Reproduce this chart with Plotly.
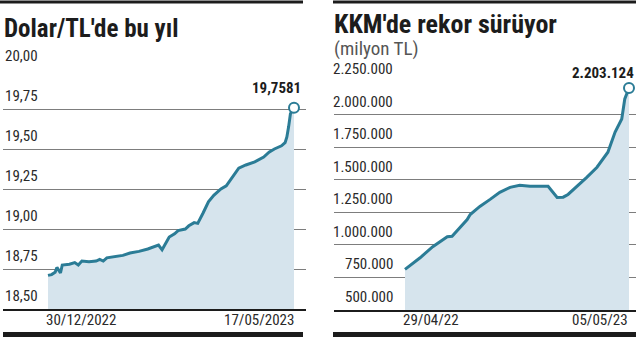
import plotly.graph_objects as go
import pandas as pd

# ---------------- data ----------------
usd_dates = ["2022-12-30", "2023-01-01", "2023-01-03", "2023-01-04", "2023-01-06", "2023-01-07",
             "2023-01-11", "2023-01-14", "2023-01-16", "2023-01-18", "2023-01-22", "2023-01-26",
             "2023-01-28", "2023-01-30", "2023-02-01", "2023-02-06", "2023-02-10", "2023-02-14",
             "2023-02-19", "2023-02-24", "2023-02-28", "2023-03-02", "2023-03-04", "2023-03-08",
             "2023-03-11", "2023-03-13", "2023-03-17", "2023-03-19", "2023-03-22", "2023-03-24",
             "2023-03-27", "2023-03-30", "2023-04-02", "2023-04-06", "2023-04-09", "2023-04-12",
             "2023-04-16", "2023-04-20", "2023-04-25", "2023-04-30", "2023-05-03", "2023-05-06",
             "2023-05-10", "2023-05-12", "2023-05-13", "2023-05-14", "2023-05-15", "2023-05-17"]
usd_values = [18.71, 18.715, 18.73, 18.76, 18.725, 18.775,
              18.78, 18.79, 18.775, 18.80, 18.795, 18.80,
              18.81, 18.80, 18.82, 18.83, 18.835, 18.85,
              18.86, 18.875, 18.89, 18.90, 18.87, 18.95,
              18.97, 18.99, 19.00, 19.02, 19.04, 19.035,
              19.10, 19.17, 19.21, 19.25, 19.27, 19.32,
              19.38, 19.40, 19.42, 19.45, 19.48, 19.50,
              19.52, 19.54, 19.575, 19.64, 19.72, 19.7581]

kkm_dates = ["2022-04-29", "2022-05-24", "2022-06-14", "2022-07-08", "2022-07-16", "2022-07-29",
             "2022-08-10", "2022-08-15", "2022-08-31", "2022-09-17", "2022-10-03", "2022-10-20",
             "2022-11-05", "2022-11-22", "2022-12-09", "2022-12-22", "2023-01-06", "2023-01-16",
             "2023-01-24", "2023-02-08", "2023-02-24", "2023-03-13", "2023-03-31", "2023-04-12",
             "2023-04-23", "2023-04-28", "2023-05-05"]
kkm_values = [812000, 901000, 986000, 1063000, 1066000, 1133000,
              1194000, 1233000, 1295000, 1349000, 1403000, 1441000,
              1457000, 1449000, 1452000, 1449000, 1364000, 1366000,
              1387000, 1449000, 1518000, 1596000, 1711000, 1866000,
              1966000, 2120000, 2203124]

usd_ticks = [18.50, 18.75, 19.00, 19.25, 19.50, 19.75, 20.00]
kkm_ticks = [500000, 750000, 1000000, 1250000, 1500000, 1750000, 2000000, 2250000]
usd_xlabels = ["30/12/2022", "17/05/2023"]
kkm_xlabels = ["29/04/22", "05/05/23"]

title_left = "Dolar/TL'de bu yıl"
title_right = "KKM'de rekor sürüyor"
subtitle_right = "(milyon TL)"

# ---------------- styles ----------------
W, H = 640, 342
FONT = "Liberation Sans Narrow, Roboto Condensed, Arial Narrow, sans-serif"
LINE = "#2b7c96"
FILL = "rgba(214,228,237,1)"
GRID = "#7d7d7d"
DARK = "#1c1c1c"
TXT = "#2a2a2a"


def px(x):
    return x / W


def py(y):
    return 1 - y / H


def fmt_tr_dec(v):
    return f"{v:.2f}".replace(".", ",")


def fmt_tr_int(v):
    return f"{int(round(v)):,}".replace(",", ".")


def fmt_tr_4(v):
    return f"{v:.4f}".replace(".", ",")


def date_range(dates, data_px0, data_px1, dom_px0, dom_px1):
    d0 = pd.Timestamp(dates[0])
    d1 = pd.Timestamp(dates[-1])
    days = (d1 - d0).days
    ppd = (data_px1 - data_px0) / days
    r0 = d0 - pd.Timedelta(days=(data_px0 - dom_px0) / ppd)
    r1 = d1 + pd.Timedelta(days=(dom_px1 - data_px1) / ppd)
    return [r0.isoformat(), r1.isoformat()]


fig = go.Figure()

# left panel
fig.add_trace(go.Scatter(x=usd_dates, y=usd_values, mode="lines", fill="tozeroy",
                         fillcolor=FILL, line=dict(color=LINE, width=3),
                         xaxis="x", yaxis="y", hoverinfo="skip", showlegend=False))
fig.add_trace(go.Scatter(x=[usd_dates[-1]], y=[usd_values[-1]], mode="markers",
                         marker=dict(symbol="circle", size=10, color="white",
                                     line=dict(color=LINE, width=2)),
                         xaxis="x", yaxis="y", hoverinfo="skip", showlegend=False))
# right panel
fig.add_trace(go.Scatter(x=kkm_dates, y=kkm_values, mode="lines", fill="tozeroy",
                         fillcolor=FILL, line=dict(color=LINE, width=3),
                         xaxis="x2", yaxis="y2", hoverinfo="skip", showlegend=False))
fig.add_trace(go.Scatter(x=[kkm_dates[-1]], y=[kkm_values[-1]], mode="markers",
                         marker=dict(symbol="circle", size=10, color="white",
                                     line=dict(color=LINE, width=2)),
                         xaxis="x2", yaxis="y2", hoverinfo="skip", showlegend=False))

L_DOM = (3, 306)
R_DOM = (334, 636)
L_DATA = (48, 294)
R_DATA = (405, 629)

axis_common = dict(showticklabels=False, ticks="", zeroline=False, fixedrange=True)

fig.update_layout(
    width=W, height=H,
    margin=dict(l=0, r=0, t=0, b=0),
    paper_bgcolor="white", plot_bgcolor="white",
    font=dict(family=FONT, color=TXT),
    showlegend=False,
    xaxis=dict(domain=[px(L_DOM[0]), px(L_DOM[1])], type="date",
               range=date_range(usd_dates, L_DATA[0], L_DATA[1], L_DOM[0], L_DOM[1]),
               showgrid=False, showline=True, linecolor=DARK, linewidth=2,
               anchor="y", **axis_common),
    yaxis=dict(domain=[py(309), py(69)], range=[usd_ticks[0], usd_ticks[-1]],
               tickvals=usd_ticks, showgrid=True, gridcolor=GRID, gridwidth=1,
               showline=False, anchor="x", **axis_common),
    xaxis2=dict(domain=[px(R_DOM[0]), px(R_DOM[1])], type="date",
                range=date_range(kkm_dates, R_DATA[0], R_DATA[1], R_DOM[0], R_DOM[1]),
                showgrid=False, showline=True, linecolor=DARK, linewidth=1.5,
                anchor="y2", **axis_common),
    yaxis2=dict(domain=[py(310), py(82)], range=[kkm_ticks[0], kkm_ticks[-1]],
                tickvals=kkm_ticks, showgrid=True, gridcolor=GRID, gridwidth=1,
                showline=False, anchor="x2", **axis_common),
)

shapes = []
# top rules
shapes.append(dict(type="line", xref="paper", yref="paper", x0=px(0), x1=px(303),
                   y0=py(2), y1=py(2), line=dict(color=DARK, width=3)))
shapes.append(dict(type="line", xref="paper", yref="paper", x0=px(333), x1=px(636),
                   y0=py(2), y1=py(2), line=dict(color=DARK, width=3)))
# bottom bars
shapes.append(dict(type="line", xref="paper", yref="paper", x0=px(3), x1=px(303),
                   y0=py(334.5), y1=py(334.5), line=dict(color=DARK, width=5)))
shapes.append(dict(type="line", xref="paper", yref="paper", x0=px(333), x1=px(636),
                   y0=py(334.5), y1=py(334.5), line=dict(color=DARK, width=5)))
fig.update_layout(shapes=shapes)

ann = []
# titles
ann.append(dict(text=f"<b>{title_left}</b>", x=px(2), y=py(28), xref="paper", yref="paper",
                xanchor="left", yanchor="middle", showarrow=False,
                font=dict(size=25, color=DARK)))
ann.append(dict(text=f"<b>{title_right}</b>", x=px(332), y=py(24), xref="paper", yref="paper",
                xanchor="left", yanchor="middle", showarrow=False,
                font=dict(size=26, color=DARK)))
ann.append(dict(text=subtitle_right, x=px(332), y=py(48), xref="paper", yref="paper",
                xanchor="left", yanchor="middle", showarrow=False,
                font=dict(size=19, color="#555555")))
# y tick labels
for v in usd_ticks:
    ann.append(dict(text=fmt_tr_dec(v), x=px(3), y=v, xref="paper", yref="y",
                    xanchor="left", yanchor="bottom", yshift=2, showarrow=False,
                    font=dict(size=15, color=TXT)))
for v in kkm_ticks:
    ann.append(dict(text=fmt_tr_int(v), x=px(395), y=v, xref="paper", yref="y2",
                    xanchor="right", yanchor="bottom", yshift=2, showarrow=False,
                    font=dict(size=15, color=TXT)))
# x labels
ann.append(dict(text=usd_xlabels[0], x=usd_dates[0], y=py(320), xref="x", yref="paper",
                xanchor="left", yanchor="middle", xshift=-4, showarrow=False,
                font=dict(size=15, color=TXT)))
ann.append(dict(text=usd_xlabels[1], x=usd_dates[-1], y=py(320), xref="x", yref="paper",
                xanchor="right", yanchor="middle", xshift=2, showarrow=False,
                font=dict(size=15, color=TXT)))
ann.append(dict(text=kkm_xlabels[0], x=kkm_dates[0], y=py(320), xref="x2", yref="paper",
                xanchor="left", yanchor="middle", xshift=-4, showarrow=False,
                font=dict(size=15, color=TXT)))
ann.append(dict(text=kkm_xlabels[1], x=kkm_dates[-1], y=py(320), xref="x2", yref="paper",
                xanchor="right", yanchor="middle", xshift=1, showarrow=False,
                font=dict(size=15, color=TXT)))
# value labels
ann.append(dict(text=f"<b>{fmt_tr_4(usd_values[-1])}</b>", x=px(303), y=py(88),
                xref="paper", yref="paper", xanchor="right", yanchor="middle",
                showarrow=False, font=dict(size=15, color=DARK)))
ann.append(dict(text=f"<b>{fmt_tr_int(kkm_values[-1])}</b>", x=px(636), y=py(73),
                xref="paper", yref="paper", xanchor="right", yanchor="middle",
                showarrow=False, font=dict(size=15, color=DARK)))
fig.update_layout(annotations=ann)

fig.write_html("out.html")
